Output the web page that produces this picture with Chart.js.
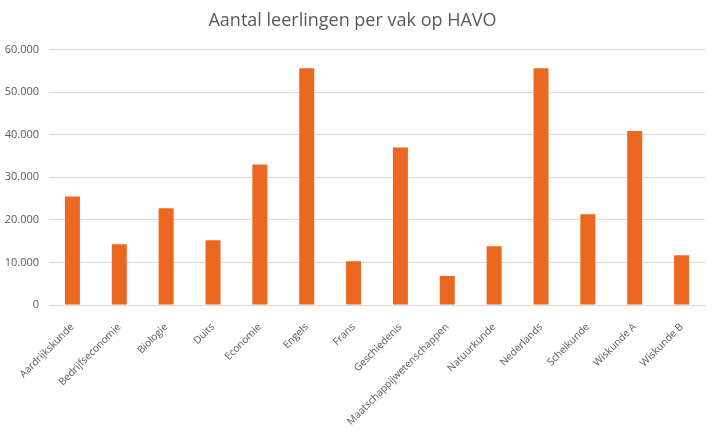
<!DOCTYPE html>
<html>
<head>
<meta charset="utf-8">
<script src="https://cdn.jsdelivr.net/npm/chart.js@4"></script>
<style>
  html, body { margin: 0; padding: 0; background: #fff; }
  #wrap { width: 718px; height: 430px; }
</style>
</head>
<body>
<div id="wrap"><canvas id="vakChart"></canvas></div>
<script>
const vakken = ["Aardrijkskunde", "Bedrijfseconomie", "Biologie", "Duits", "Economie", "Engels", "Frans",
    "Geschiedenis", "Maatschappijwetenschappen", "Natuurkunde", "Nederlands", "Scheikunde", "Wiskunde A", "Wiskunde B"];
const leerlingen = [25500, 14300, 22700, 15200, 33000, 55600, 10300, 37000, 6800, 13800, 55600, 21300, 40900, 11700];
const yTicks = [0, 10000, 20000, 30000, 40000, 50000, 60000];

const fmt = v => v === 0 ? "0" : v.toLocaleString("nl-NL");
const fam = "'Open Sans', 'Liberation Sans', sans-serif";

const ctx = document.getElementById("vakChart").getContext("2d");
const vakChart = new Chart(ctx, {
    type: "bar",
    data: {
        labels: vakken,
        datasets: [{
            label: "Aantal leerlingen",
            data: leerlingen,
            backgroundColor: "#EC671F",
            barPercentage: 0.32,
            categoryPercentage: 1
        }]
    },
    options: {
        responsive: true,
        maintainAspectRatio: false,
        animation: false,
        layout: { padding: { left: 0, right: 13, top: 4, bottom: 4 } },
        plugins: {
            legend: { display: false },
            tooltip: { enabled: false },
            title: {
                display: true,
                text: "Aantal leerlingen per vak op HAVO",
                color: "#595959",
                font: { family: fam, size: 18, weight: "normal" },
                padding: { top: 6, bottom: 18 }
            }
        },
        scales: {
            x: {
                grid: { display: false },
                border: { color: "#d9d9d9" },
                afterFit: axis => {
                    axis.height = 121;
                    axis.paddingLeft = 0;
                    axis.paddingRight = 0;
                },
                ticks: {
                    color: "#595959",
                    padding: 8,
                    font: { family: fam, size: 10.2 },
                    maxRotation: 45,
                    minRotation: 45,
                    autoSkip: false
                }
            },
            y: {
                min: 0,
                max: 60000,
                afterBuildTicks: axis => { axis.ticks = yTicks.map(v => ({ value: v })); },
                afterFit: axis => { axis.width = 49; },
                border: { display: false },
                grid: { color: "#d9d9d9", drawTicks: false },
                ticks: {
                    color: "#595959",
                    padding: 10,
                    font: { family: fam, size: 11 },
                    callback: v => fmt(v)
                }
            }
        }
    }
});
</script>
</body>
</html>
